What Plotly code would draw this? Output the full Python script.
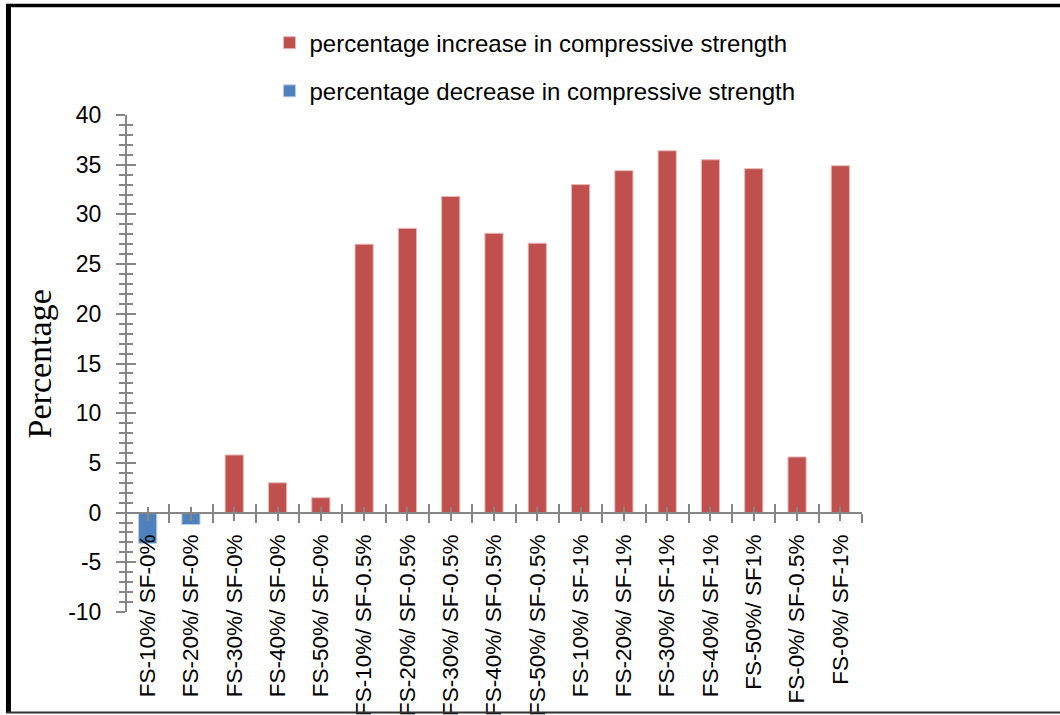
import plotly.graph_objects as go

# Mix designs (fly ash % / silica fume %)
categories = [
    "FS-10%/ SF-0%", "FS-20%/ SF-0%", "FS-30%/ SF-0%", "FS-40%/ SF-0%", "FS-50%/ SF-0%",
    "FS-10%/ SF-0.5%", "FS-20%/ SF-0.5%", "FS-30%/ SF-0.5%", "FS-40%/ SF-0.5%", "FS-50%/ SF-0.5%",
    "FS-10%/ SF-1%", "FS-20%/ SF-1%", "FS-30%/ SF-1%", "FS-40%/ SF-1%", "FS-50%/ SF1%",
    "FS-0%/ SF-0.5%", "FS-0%/ SF-1%",
]
increase = [None, None, 5.8, 3.0, 1.5,
            27.0, 28.6, 31.8, 28.1, 27.1,
            33.0, 34.4, 36.4, 35.5, 34.6,
            5.6, 34.9]
decrease = [-3.1, -1.2, None, None, None,
            None, None, None, None, None,
            None, None, None, None, None,
            None, None]
y_ticks = [-10, -5, 0, 5, 10, 15, 20, 25, 30, 35, 40]
y_ticktext = ["-10", "-5", "0", "5", "10", "15", "20", "25", "30", "35", "40"]

RED = "#C0504D"
BLUE = "#4F81BD"
AXIS = "#868686"
TICK_FONT = dict(family="Liberation Sans Narrow, Liberation Sans, Arial", size=22.5, color="black")

pos = list(range(len(categories)))
bounds = [p - 0.5 for p in pos] + [pos[-1] + 0.5]

fig = go.Figure()
fig.add_trace(go.Bar(
    x=pos, y=increase, width=0.42, name="percentage increase in compressive strength",
    marker=dict(color=RED, line=dict(color="#E6B9B8", width=1)), legendgroup="inc",
))
fig.add_trace(go.Bar(
    x=pos, y=decrease, width=0.42, name="percentage decrease in compressive strength",
    marker=dict(color=BLUE, line=dict(color="#B9CDE5", width=1)), legendgroup="dec",
))
# empty trace so the overlay axes (inner half of the crossing ticks) are drawn
fig.add_trace(go.Scatter(x=[None], y=[None], xaxis="x2", yaxis="y2",
                         showlegend=False, hoverinfo="skip"))

y0_frac = (0 - y_ticks[0]) / (y_ticks[-1] - y_ticks[0])

xcommon = dict(range=[-0.5, len(categories) - 0.5], showgrid=False, zeroline=False,
               tickvals=pos, tickcolor=AXIS, tickwidth=1.5,
               anchor="free", position=y0_frac, automargin=False)
ycommon = dict(range=[y_ticks[0], y_ticks[-1]], showgrid=False, zeroline=False,
               tickvals=y_ticks, tickcolor=AXIS, tickwidth=1.5,
               anchor="free", position=0, automargin=False)

fig.update_layout(
    width=1060, height=715,
    margin=dict(l=126, r=198, t=115, b=103),
    paper_bgcolor="white", plot_bgcolor="white",
    barmode="relative",
    showlegend=True,
    legend=dict(x=0.195, xanchor="left", y=1.19, yanchor="top",
                font=dict(family="Liberation Sans, Arial", size=24, color="black"),
                traceorder="grouped", tracegroupgap=14, bgcolor="rgba(0,0,0,0)"),
    xaxis=dict(**xcommon, ticktext=categories, tickangle=-90, tickfont=TICK_FONT,
               ticks="outside", ticklen=7, showline=True, linecolor=AXIS, linewidth=2,
               ticklabelstandoff=5,
               minor=dict(tickvals=bounds, ticks="outside", ticklen=9,
                          tickcolor=AXIS, tickwidth=1.5)),
    xaxis2=dict(**xcommon, overlaying="x", matches="x", showticklabels=False,
                ticks="inside", ticklen=6, showline=False,
                minor=dict(tickvals=bounds, ticks="inside", ticklen=9,
                           tickcolor=AXIS, tickwidth=1.5)),
    yaxis=dict(**ycommon, ticktext=y_ticktext,
               tickfont=dict(family="Liberation Sans, Arial", size=23, color="black"),
               ticks="outside", ticklen=9, showline=True, linecolor=AXIS, linewidth=2,
               ticklabelstandoff=10,
               minor=dict(dtick=1, ticks="outside", ticklen=6,
                          tickcolor=AXIS, tickwidth=1.5)),
    yaxis2=dict(**ycommon, overlaying="y", matches="y", showticklabels=False,
                ticks="inside", ticklen=9, showline=False,
                minor=dict(dtick=1, ticks="inside", ticklen=6,
                           tickcolor=AXIS, tickwidth=1.5)),
    annotations=[dict(text="Percentage", textangle=-90, showarrow=False,
                      xref="paper", yref="paper", x=-0.117, y=0.5,
                      xanchor="center", yanchor="middle",
                      font=dict(family="Liberation Serif, Times New Roman", size=34, color="black"))],
    shapes=[
        # outer frame: heavy left and top edges, thin bottom edge
        dict(type="line", xref="paper", yref="paper", x0=-0.1597, x1=-0.1597, y0=1.2213, y1=-0.2032,
             line=dict(color="black", width=5)),
        dict(type="line", xref="paper", yref="paper", x0=-0.163, x1=1.3, y0=1.2203, y1=1.2203,
             line=dict(color="black", width=3.5)),
        dict(type="line", xref="paper", yref="paper", x0=-0.163, x1=1.3, y0=-0.2022, y1=-0.2022,
             line=dict(color="#333333", width=2)),
    ],
)

fig.write_html("out.html")
